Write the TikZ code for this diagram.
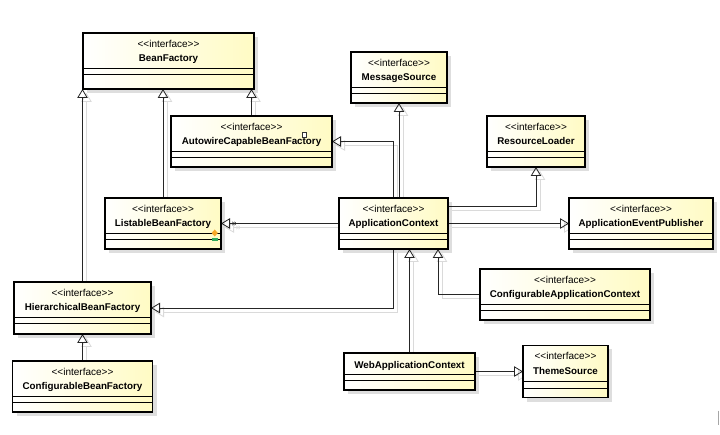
\documentclass[tikz,border=0pt]{standalone}
\usepackage{fontspec}
\newfontfamily\umlfont{Liberation Sans}
\usetikzlibrary{arrows.meta, positioning, shadows, backgrounds}

\definecolor{classyellow}{RGB}{255,251,196}
\definecolor{lineshadow}{RGB}{218,218,218}
\definecolor{markorange}{RGB}{247,168,38}
\definecolor{markgreen}{RGB}{46,170,92}

\newcommand{\stereo}{<\kern0pt<interface>\kern0pt>}
\newcommand{\classbox}[3]{\parbox[c][#2][t]{#1}{\centering\umlfont\fontsize{10}{14.5}\selectfont #3}}
\newcommand{\iface}[1]{\rule{0pt}{14.3pt}\stereo\\{\bfseries\fontsize{9.8}{14.5}\selectfont #1}}
\newcommand{\plainclass}[1]{\rule{0pt}{15.5pt}{\bfseries\fontsize{9.8}{14.5}\selectfont #1}}

\tikzset{compartments/.style={path picture={
    \draw[black, line width=0.9pt] ([yshift=-#1]path picture bounding box.north west) -- ([yshift=-#1]path picture bounding box.north east);
    \draw[black, line width=0.9pt] ([yshift=-#1-6.5pt]path picture bounding box.north west) -- ([yshift=-#1-6.5pt]path picture bounding box.north east);}},
  compartments/.default=35pt}
\tikzstyle{iface} = [draw=black, line width=1.3pt, inner sep=0pt, outer sep=0pt, left color=white, right color=classyellow,
                     drop shadow={shadow xshift=4pt, shadow yshift=-4pt, fill=black, opacity=0.13}, compartments]
\tikzstyle{gen}   = [draw=black!85, line width=0.8pt, -{Triangle[open, length=9pt, width=10.5pt]},
                     preaction={draw=lineshadow, line width=0.8pt, transform canvas={shift={(4pt,-4pt)}}}]
\tikzstyle{genx}  = [gen, -{Straight Barb[reversed, length=1.5pt, width=3.5pt, line width=0.6pt] Straight Barb[reversed, length=1.5pt, width=3.5pt, line width=0.6pt, sep=2pt] Triangle[open, length=9pt, width=10.5pt]}]

\begin{document}
\begin{tikzpicture}[x=1pt, y=-1pt]
\useasboundingbox (0,0) rectangle (720,435);
% Classes
    % Context side
    \node (ac)   [iface] at (393.5,223.5)                    {\classbox{109pt}{51pt}{\iface{ApplicationContext}}};
    \node (lbf)  [iface, left=118pt of ac]                   {\classbox{116pt}{51pt}{\iface{ListableBeanFactory}}};
    \node (aep)  [iface, right=121pt of ac]                  {\classbox{144pt}{51pt}{\iface{ApplicationEventPublisher}}};
    \node (ms)   [iface, above=95pt of ac, xshift=5.5pt]     {\classbox{96pt}{51pt}{\iface{MessageSource}}};
    \node (rl)   [iface, above right=31pt and 39pt of ac]    {\classbox{98pt}{51pt}{\iface{ResourceLoader}}};
    \node (acbf) [iface, above left=31pt and 7pt of ac]      {\classbox{161pt}{51pt}{\iface{AutowireCapableBeanFactory}}};
    \node (cac)  [iface, below right=20pt and 32pt of ac]    {\classbox{170pt}{51pt}{\iface{ConfigurableApplicationContext}}};
    \node (wac)  [iface, compartments=21pt, below=104pt of ac, xshift=16pt] {\classbox{131pt}{37pt}{\plainclass{WebApplicationContext}}};
    \node (ts)   [iface, compartments=36pt, right=48pt of wac] {\classbox{85pt}{52pt}{\iface{ThemeSource}}};
    % Bean factory side
    \node (bf)   [iface, above=27pt of acbf, xshift=-83pt]   {\classbox{171pt}{56pt}{\iface{BeanFactory}}};
    \node (hbf)  [iface, below=33pt of lbf, xshift=-80.5pt]  {\classbox{137pt}{52pt}{\iface{HierarchicalBeanFactory}}};
    \node (cbf)  [iface, below=27pt of hbf]                  {\classbox{140pt}{51pt}{\iface{ConfigurableBeanFactory}}};

% Marks
    \fill[markorange] (214.7,229.5) -- (217.8,233) -- (214.7,236.5) -- (211.6,233) -- cycle;
    \fill[markgreen]  (212,238.5) rectangle (217.5,241.5);
    \draw[black!80, line width=0.6pt, fill=white] (302,132.3) rectangle (306.7,137.3);
    \draw[black!35, line width=0.8pt] (718.3,410.7) -- (718.3,425);

% Generalizations
\begin{scope}[on background layer]
    % Bean factories
    \draw [gen]  (hbf.north)  -- (hbf.north |- bf.south);
    \draw [gen]  (lbf.north)  -- (lbf.north |- bf.south);
    \draw [gen]  (acbf.north) -- (acbf.north |- bf.south);
    \draw [gen]  (cbf.north)  -- (cbf.north |- hbf.south);
    % Application context
    \draw [gen]  (ac.north)   |- (acbf.east);
    \draw [gen]  (ms.south |- ac.north) -- (ms.south);
    \draw [gen]  ([yshift=-8pt]ac.north east) -| (rl.south);
    \draw [gen]  (ac.east)    -- (aep.west);
    \draw [genx] (ac.west)    -- (lbf.east);
    \draw [gen]  (ac.south)   |- (hbf.east);
    % Sub contexts
    \draw [gen]  (wac.north)  -- (wac.north |- ac.south);
    \draw [gen]  (cac.west)   -| ([xshift=-10pt]ac.south east);
    \draw [gen]  (wac.east)   -- (ts.west);
\end{scope}
\end{tikzpicture}
\end{document}
